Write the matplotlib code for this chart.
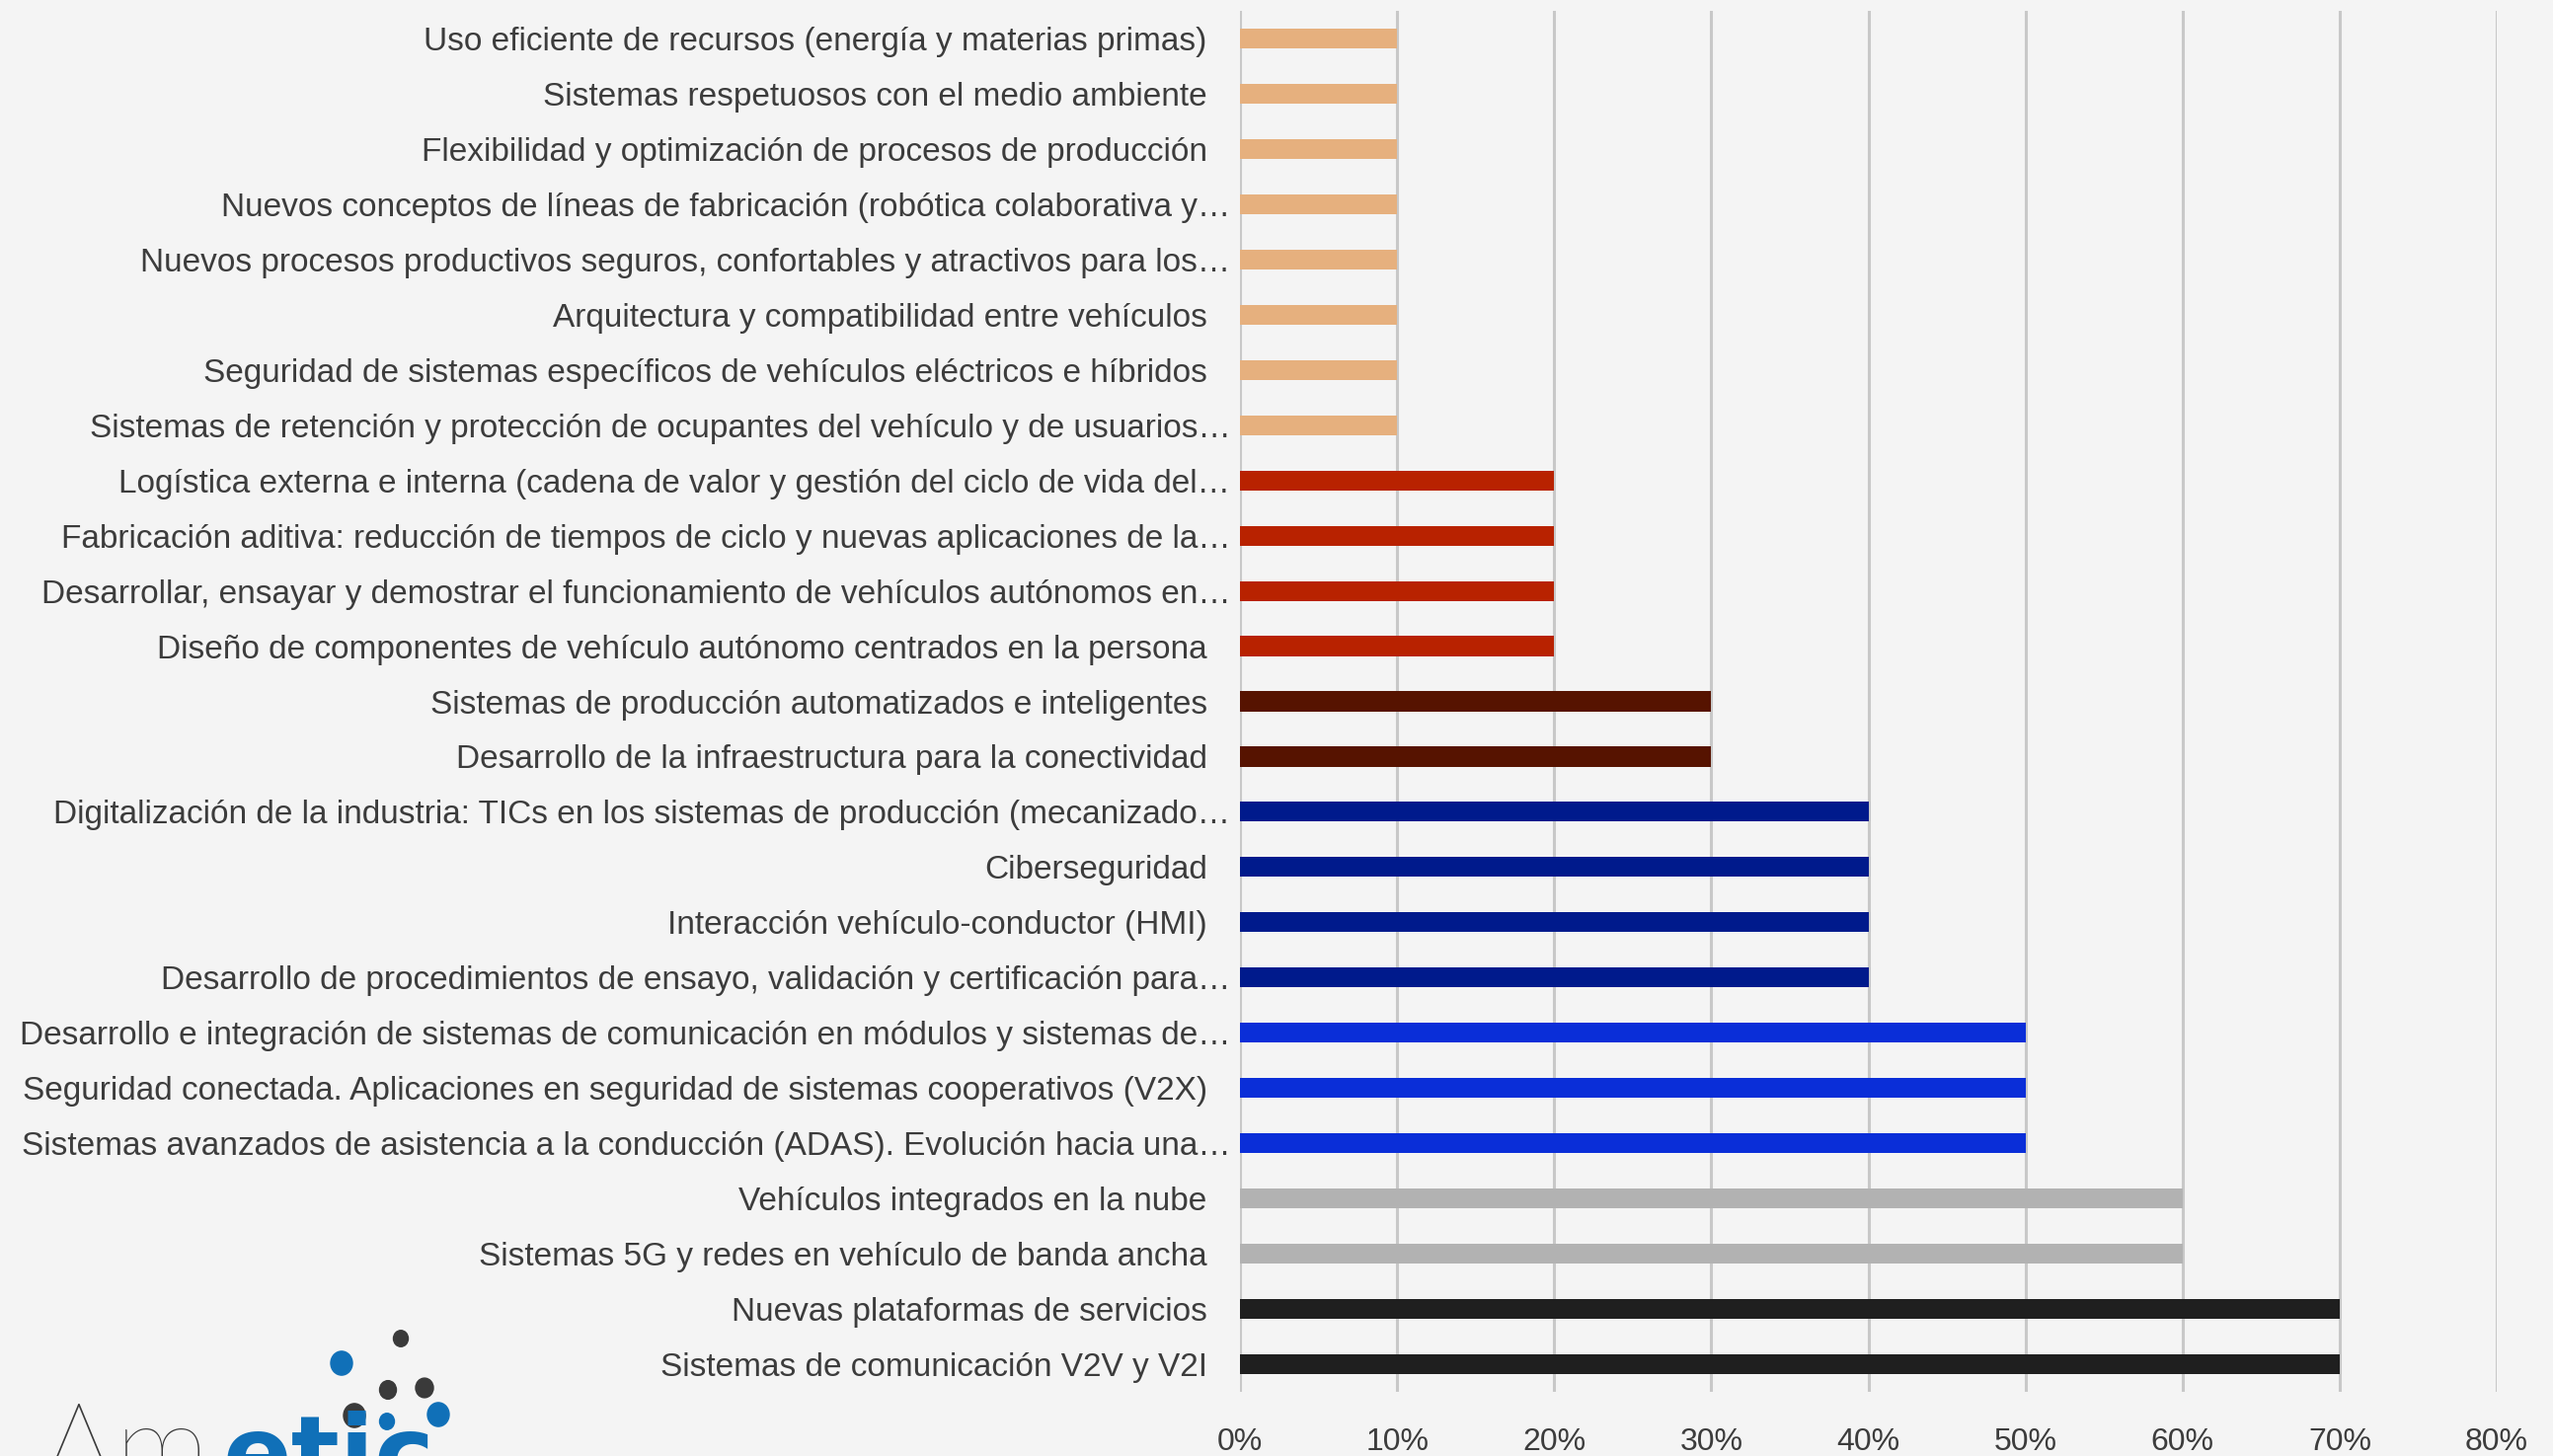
import matplotlib
matplotlib.use("Agg")
import matplotlib.pyplot as plt
from matplotlib.patches import Ellipse

# categories, listed top to bottom as in the chart
labels = [
    "Uso eficiente de recursos (energía y materias primas)",
    "Sistemas respetuosos con el medio ambiente",
    "Flexibilidad y optimización de procesos de producción",
    "Nuevos conceptos de líneas de fabricación (robótica colaborativa y…",
    "Nuevos procesos productivos seguros, confortables y atractivos para los…",
    "Arquitectura y compatibilidad entre vehículos",
    "Seguridad de sistemas específicos de vehículos eléctricos e híbridos",
    "Sistemas de retención y protección de ocupantes del vehículo y de usuarios…",
    "Logística externa e interna (cadena de valor y gestión del ciclo de vida del…",
    "Fabricación aditiva: reducción de tiempos de ciclo y nuevas aplicaciones de la…",
    "Desarrollar, ensayar y demostrar el funcionamiento de vehículos autónomos en…",
    "Diseño de componentes de vehículo autónomo centrados en la persona",
    "Sistemas de producción automatizados e inteligentes",
    "Desarrollo de la infraestructura para la conectividad",
    "Digitalización de la industria: TICs en los sistemas de producción (mecanizado…",
    "Ciberseguridad",
    "Interacción vehículo-conductor (HMI)",
    "Desarrollo de procedimientos de ensayo, validación y certificación para…",
    "Desarrollo e integración de sistemas de comunicación en módulos y sistemas de…",
    "Seguridad conectada. Aplicaciones en seguridad de sistemas cooperativos (V2X)",
    "Sistemas avanzados de asistencia a la conducción (ADAS). Evolución hacia una…",
    "Vehículos integrados en la nube",
    "Sistemas 5G y redes en vehículo de banda ancha",
    "Nuevas plataformas de servicios",
    "Sistemas de comunicación V2V y V2I",
]
values = [0.10] * 8 + [0.20] * 4 + [0.30] * 2 + [0.40] * 4 + [0.50] * 3 + [0.60] * 2 + [0.70] * 2

# one colour per value level
level_colors = {
    0.10: "#E6B07E",
    0.20: "#B82200",
    0.30: "#561300",
    0.40: "#001A8C",
    0.50: "#0A2ED8",
    0.60: "#B2B2B2",
    0.70: "#1F1F1F",
}
xticks = [0.0, 0.1, 0.2, 0.3, 0.4, 0.5, 0.6, 0.7, 0.8]
xtick_labels = ["0%", "10%", "20%", "30%", "40%", "50%", "60%", "70%", "80%"]

BG = "#F4F4F4"
TXT = "#3C3C3C"
FONT = ["Liberation Sans", "DejaVu Sans"]

W, H = 2586, 1475
fig = plt.figure(figsize=(W / 100, H / 100), dpi=100, facecolor=BG)
ax = fig.add_axes([1256 / W, 1 - 1410 / H, (2529 - 1256) / W, (1410 - 11) / H])
ax.set_facecolor(BG)

y = list(range(len(labels)))
colors = [level_colors[v] for v in values]
ax.barh(y, values, height=0.36, color=colors, zorder=3)

ax.set_xlim(0, 0.8)
ax.set_ylim(len(labels) - 0.5, -0.5)
ax.set_xticks(xticks)
ax.set_xticklabels(xtick_labels, fontsize=23, color=TXT, family=FONT)
ax.set_yticks(y)
ax.set_yticklabels(labels, fontsize=24, color=TXT, family=FONT)
ax.tick_params(axis="both", length=0)
ax.tick_params(axis="x", pad=26)
for tick, lab in zip(ax.yaxis.get_major_ticks(), labels):
    tick.set_pad(7 if lab.endswith("…") else 24)

ax.grid(axis="x", color="#C8C8C8", linewidth=2.2, zorder=0)
ax.set_axisbelow(True)
for s in ax.spines.values():
    s.set_visible(False)

# logo overlay in pixel coordinates
lg = fig.add_axes([0, 0, 1, 1], zorder=-1)
lg.set_xlim(0, W)
lg.set_ylim(H, 0)
lg.axis("off")
lg.patch.set_alpha(0)
dark, blue = "#3A3A3A", "#1070B8"
dots = [(346, 1381, 22, blue), (406, 1356, 15, dark), (393, 1408, 17, dark),
        (430, 1406, 18, dark), (359, 1434, 22, dark), (392, 1440, 15, blue),
        (444, 1433, 22, blue)]
for cx, cy, d, c in dots:
    lg.add_patch(Ellipse((cx, cy), d, d * 1.1, color=c))
lg.text(40, 1508, "A", fontsize=88, color=dark, family=["Lato", "DejaVu Sans"],
        fontweight="light", va="baseline", ha="left", clip_on=False)
lg.text(116, 1508, "m", fontsize=88, color=dark, family=["Lato", "DejaVu Sans"],
        fontweight="light", va="baseline", ha="left", clip_on=False)
lg.text(226, 1508, "etic", fontsize=74, color=blue, family=["DejaVu Sans"],
        fontweight="bold", va="baseline", ha="left", clip_on=False)

fig.savefig("out.png", dpi=100, facecolor=BG)
